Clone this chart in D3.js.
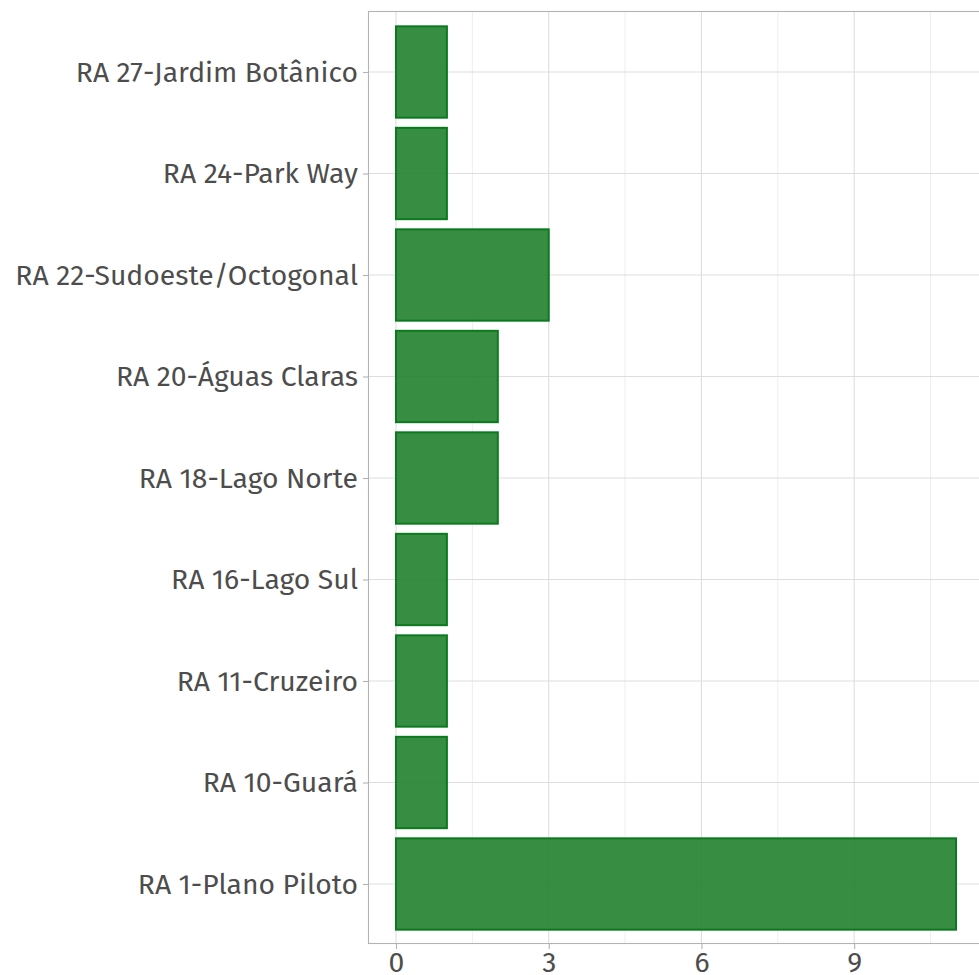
<!DOCTYPE html>
<html><head><meta charset="utf-8">
<script src="https://cdn.jsdelivr.net/npm/d3@7"></script>
<style>body{margin:0;background:#fff}svg{display:block}</style>
</head><body>
<svg id="c" width="979" height="975"></svg>
<script>
const categories = ["RA 1-Plano Piloto","RA 10-Guará","RA 11-Cruzeiro","RA 16-Lago Sul","RA 18-Lago Norte","RA 20-Águas Claras","RA 22-Sudoeste/Octogonal","RA 24-Park Way","RA 27-Jardim Botânico"];
const values = [11,1,1,1,2,2,3,1,1];
const xTicks = [0,3,6,9];
const xMinor = [1.5,4.5,7.5,10.5];

const svg = d3.select("#c");
const panel = {left:368, top:11, right:984, bottom:944};
const font = "'Fira Sans','Open Sans','Noto Sans',sans-serif";

const x = d3.scaleLinear().domain([-0.55, 11.55]).range([panel.left, panel.right]);
const yPos = d3.scalePoint().domain(categories.slice().reverse()).range([72, 884]);
const step = yPos.step();

// grid
const g = svg.append("g");
g.selectAll(".minor").data(xMinor).enter().append("line")
  .attr("x1", d=>x(d)).attr("x2", d=>x(d)).attr("y1", panel.top).attr("y2", panel.bottom)
  .attr("stroke", "#dedede").attr("stroke-width", 0.55);
g.selectAll(".major").data(xTicks).enter().append("line")
  .attr("x1", d=>x(d)).attr("x2", d=>x(d)).attr("y1", panel.top).attr("y2", panel.bottom)
  .attr("stroke", "#dedede").attr("stroke-width", 1.1);
g.selectAll(".hmajor").data(categories).enter().append("line")
  .attr("x1", panel.left).attr("x2", panel.right).attr("y1", d=>yPos(d)).attr("y2", d=>yPos(d))
  .attr("stroke", "#dedede").attr("stroke-width", 1.1);

// bars
svg.append("g").selectAll("rect").data(categories).enter().append("rect")
  .attr("x", x(0)).attr("y", d=>yPos(d) - step*0.45)
  .attr("width", (d,i)=>x(values[i]) - x(0)).attr("height", step*0.9)
  .attr("fill", "#21822f").attr("fill-opacity", 0.9)
  .attr("stroke", "#0b7a1f").attr("stroke-width", 2);

// border
svg.append("rect").attr("x", panel.left+0.5).attr("y", panel.top+0.5)
  .attr("width", panel.right-panel.left).attr("height", panel.bottom-panel.top-1)
  .attr("fill", "none").attr("stroke", "#b3b3b3").attr("stroke-width", 1.1);

// axes
const xAxis = d3.axisBottom(x).tickValues(xTicks).tickSize(5).tickPadding(3).tickFormat(d3.format("d"));
const xa = svg.append("g").attr("transform", `translate(0,${panel.bottom})`).call(xAxis);
xa.select(".domain").remove();
xa.selectAll("line").attr("stroke", "#b3b3b3").attr("stroke-width", 1.1);
xa.selectAll("text").attr("fill", "#4d4d4d").style("font-family", font).style("font-size", "28.3px");

const yAxis = d3.axisLeft(yPos).tickSize(5).tickPadding(5);
const ya = svg.append("g").attr("transform", `translate(${panel.left},0)`).call(yAxis);
ya.select(".domain").remove();
ya.selectAll("line").attr("stroke", "#b3b3b3").attr("stroke-width", 1.1);
ya.selectAll("text").attr("fill", "#4d4d4d").style("font-family", font).style("font-size", "28.3px");
</script>
</body></html>
